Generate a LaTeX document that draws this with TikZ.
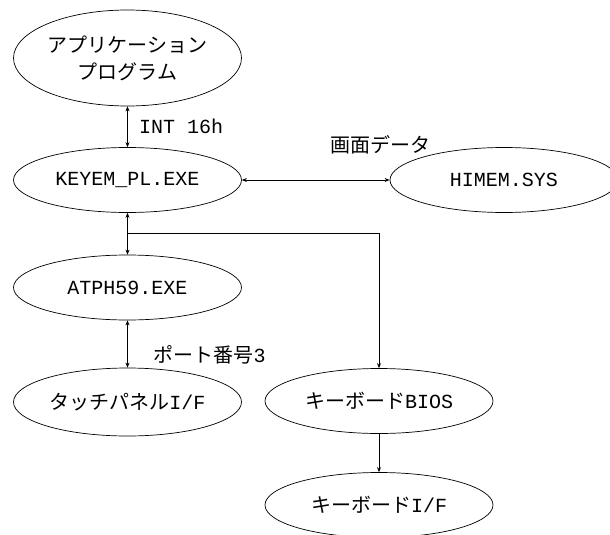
\documentclass[tikz,border=0pt]{standalone}
\usepackage{fontspec}
\newfontfamily\jpfont{Noto Sans CJK JP}
\newfontfamily\monofont{Liberation Mono}
\usetikzlibrary{shapes.geometric,arrows.meta}
\newcommand{\lat}[1]{{\monofont #1}}
\begin{document}
\begin{tikzpicture}[x=1pt, y=-1pt, every node/.style={font=\jpfont\fontsize{20}{27}\selectfont},
  proc/.style={draw, ellipse, line width=0.7pt, minimum width=228pt, minimum height=65pt, inner sep=0pt, align=center},
  link/.style={line width=0.8pt, {Stealth[length=5pt,width=4pt]}-{Stealth[length=5pt,width=4pt]}},
  flow/.style={line width=0.8pt, -{Stealth[length=5pt,width=4pt]}}]
  \useasboundingbox (0,0) rectangle (610,535);
  \node[proc, minimum height=96pt] (app) at (127.5,58) {アプリケーション\\プログラム};
  \node[proc] (keyem) at (127.5,180) {\lat{KEYEM\_PL.EXE}};
  \node[proc] (himem) at (504,180) {\lat{HIMEM.SYS}};
  \node[proc] (atph) at (127.5,287.5) {\lat{ATPH59.EXE}};
  \node[proc, minimum height=68pt] (touch) at (127.5,402) {タッチパネル\lat{I/F}};
  \node[proc] (bios) at (379,401) {キーボード\lat{BIOS}};
  \node[proc] (kbif) at (379,505) {キーボード\lat{I/F}};
  \coordinate (split) at (127.5,233);
  % connectors
  \draw[link] (app) -- (keyem) node[midway, right=8pt] (intlbl) {\lat{INT 16h}};
  \draw[link] (keyem) -- (himem);
  \node (scrlbl) at (380,145) {画面データ};
  \draw[link] (keyem) -- (atph);
  \draw[flow] (split) -| (bios);
  \draw[link] (atph) -- (touch);
  \node[anchor=west] (portlbl) at (150,355) {ポート番号\lat{3}};
  \draw[flow] (bios) -- (kbif);
\end{tikzpicture}
\end{document}
